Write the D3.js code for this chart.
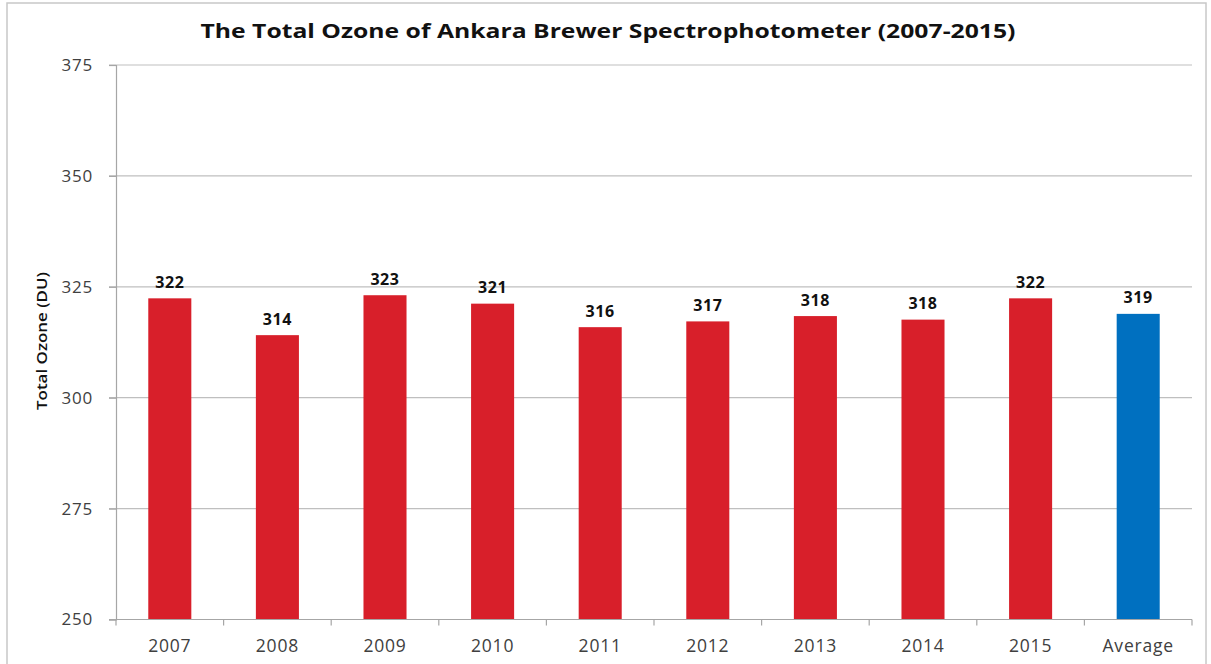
<!DOCTYPE html>
<html><head><meta charset="utf-8">
<script src="https://cdn.jsdelivr.net/npm/d3@7"></script>
<style>body{margin:0;background:#fff}svg{display:block}</style>
</head><body>
<script>
const categories = ["2007","2008","2009","2010","2011","2012","2013","2014","2015","Average"];
const values = [322.4, 314.1, 323.1, 321.2, 315.9, 317.2, 318.4, 317.6, 322.4, 318.9];
const labels = ["322","314","323","321","316","317","318","318","322","319"];
const yTicks = [250, 275, 300, 325, 350, 375];
const title = "The Total Ozone of Ankara Brewer Spectrophotometer (2007-2015)";
const yTitle = "Total Ozone (DU)";

const W = 1211, H = 664;
const svg = d3.select("body").append("svg").attr("width", W).attr("height", H);
svg.append("rect").attr("x", 7).attr("y", 3).attr("width", 1199).attr("height", 670)
  .attr("fill", "#fff").attr("stroke", "#c8c8c8").attr("stroke-width", 1.5);

const x = d3.scaleBand().domain(categories).range([116, 1192]).paddingInner(0.6).paddingOuter(0.3);
const y = d3.scaleLinear().domain([250, 375]).range([619.5, 65]);

// grid
svg.append("g").selectAll("line").data(yTicks.filter(t => t > 250)).join("line")
  .attr("x1", 109).attr("x2", 1192).attr("y1", d => y(d)).attr("y2", d => y(d))
  .attr("stroke", "#bfbfbf").attr("stroke-width", 1.2);

// y axis
const ya = svg.append("g").attr("transform", "translate(116,0)")
  .call(d3.axisLeft(y).tickValues(yTicks).tickSize(7).tickPadding(16));
ya.select(".domain").attr("stroke", "#a6a6a6").attr("stroke-width", 1.2);
ya.selectAll(".tick line").attr("stroke", "#a6a6a6").attr("stroke-width", 1.2);
ya.selectAll(".tick text").attr("font-family", "Open Sans").attr("font-size", 17)
  .attr("letter-spacing", 0.8).attr("fill", "#404040");

// bars
svg.append("g").selectAll("rect").data(categories).join("rect")
  .attr("x", d => x(d)).attr("width", x.bandwidth())
  .attr("y", (d, i) => y(values[i])).attr("height", (d, i) => y(250) - y(values[i]))
  .attr("fill", d => d === "Average" ? "#0070C0" : "#D81F2A");

// x axis
const xa = svg.append("g").attr("transform", "translate(0,619.5)");
xa.append("line").attr("x1", 109).attr("x2", 1192).attr("stroke", "#a6a6a6").attr("stroke-width", 1.2);
const bounds = d3.range(categories.length + 1).map(i => 116 + i * x.step());
xa.selectAll(".tk").data(bounds).join("line").attr("class", "tk")
  .attr("x1", d => d).attr("x2", d => d).attr("y1", 0).attr("y2", 6)
  .attr("stroke", "#a6a6a6").attr("stroke-width", 1.2);
xa.selectAll("text").data(categories).join("text")
  .attr("x", d => x(d) + x.bandwidth() / 2).attr("y", 32)
  .attr("text-anchor", "middle").attr("font-family", "Open Sans").attr("font-size", 17.5)
  .attr("letter-spacing", 0.8).attr("fill", "#404040").text(d => d);

// value labels
svg.append("g").selectAll("text").data(categories).join("text")
  .attr("x", d => x(d) + x.bandwidth() / 2).attr("y", (d, i) => y(values[i]) - 10.5)
  .attr("text-anchor", "middle").attr("font-family", "Open Sans").attr("font-weight", "bold")
  .attr("font-size", 16).attr("letter-spacing", 0.6).attr("fill", "#111").text((d, i) => labels[i]);

// title
svg.append("text").attr("x", 608).attr("y", 38).attr("text-anchor", "middle")
  .attr("font-family", "Open Sans").attr("font-weight", "bold").attr("font-size", 20)
  .attr("fill", "#111").attr("textLength", 815).attr("lengthAdjust", "spacingAndGlyphs").text(title);

// y title
svg.append("text").attr("transform", "translate(47,341) rotate(-90)").attr("text-anchor", "middle")
  .attr("font-family", "Open Sans").attr("font-weight", "600").attr("font-size", 15)
  .attr("fill", "#111").attr("textLength", 138).attr("lengthAdjust", "spacingAndGlyphs").text(yTitle);
</script>
</body></html>
